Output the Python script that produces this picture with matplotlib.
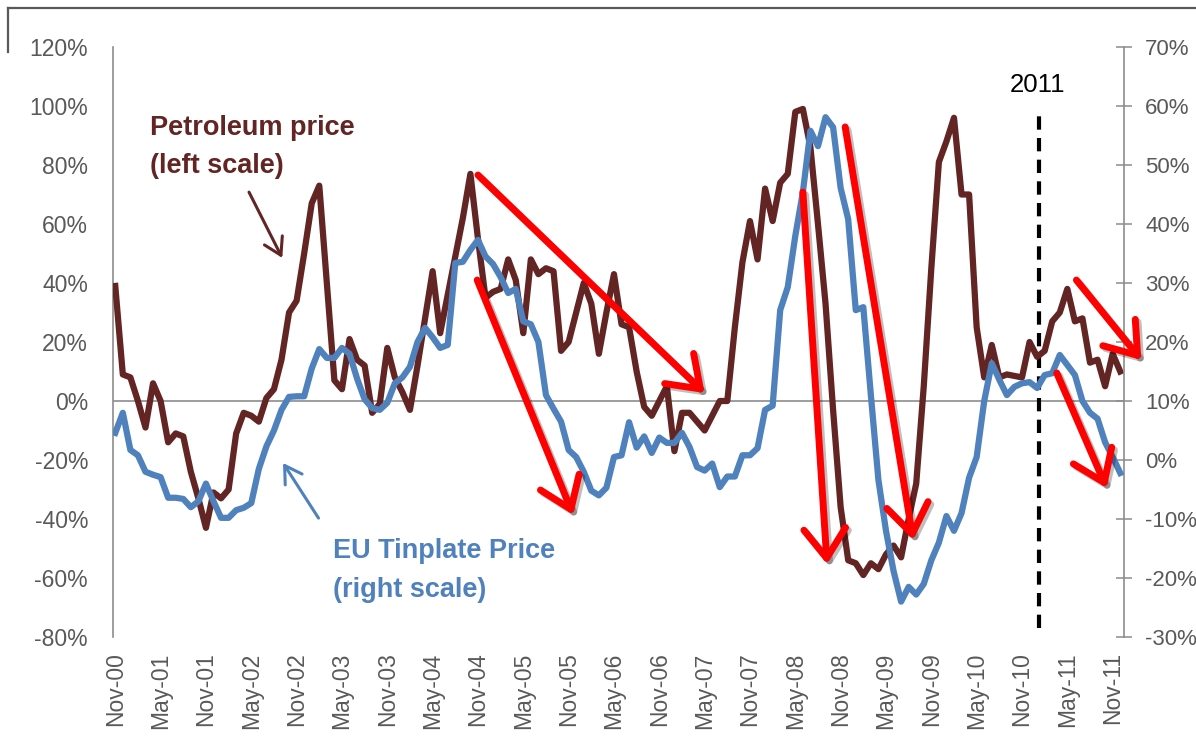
import numpy as np
import pandas as pd
import matplotlib
matplotlib.use('Agg')
import matplotlib.pyplot as plt
import matplotlib.patheffects as pe
from matplotlib.lines import Line2D
from matplotlib.ticker import MultipleLocator, FuncFormatter

# year-on-year price change, monthly from Nov-00
start_month = '2000-11'
petroleum = [39, 9, 8, 0, -9, 6, 0, -14, -11, -12, -24, -33, -43, -31, -33, -30,
             -11, -4, -5, -7, 1, 4, 14, 30, 34, 50, 67, 73, 40, 7, 4, 21,
             14, 12, -4, -1, 18, 8, 3, -3, 12, 28, 44, 23, 36, 49, 62, 77,
             55, 35, 37, 38, 48, 41, 23, 48, 43, 45, 44, 17, 20, 30, 40, 33,
             16, 30, 43, 26, 25, 10, -2, -5, 0, 5, -17, -4, -4, -7, -10, -5,
             0, 0, 25, 47, 61, 48, 72, 61, 74, 77, 98, 99, 86, 60, 33, -3,
             -36, -54, -55, -59, -55, -57, -52, -49, -53, -40, -28, 5, 45, 81, 88, 96,
             70, 70, 25, 8, 19, 8, 9, 8.5, 8, 20, 15, 17, 27, 30, 38, 27,
             28, 13, 14, 5, 16, 10]
tinplate = [4.6, 8, 1.7, 0.8, -2, -2.5, -2.9, -6.4, -6.4, -6.6, -8, -7, -4, -7, -9.8, -9.8,
            -8.5, -8.1, -7.3, -1.5, 2.3, 5, 8.5, 10.7, 10.8, 10.8, 15.5, 18.8, 17.3, 17.3, 19, 18,
            13.8, 10.3, 8.8, 8.5, 9.7, 13, 14, 15.8, 20, 22.4, 20.8, 19, 19.5, 33.4, 33.6, 35.6,
            37.3, 34.5, 33.2, 31, 28.3, 29, 23.5, 23, 20, 11, 8.7, 6.5, 1.7, 0.5, -2, -5.2,
            -6, -4.7, 0.5, 0.8, 6.4, 2.1, 4, 1.2, 3.8, 2.9, 2.9, 4.6, 2.2, -1.2, -1.8, -0.6,
            -4.6, -2.8, -2.8, 0.8, 0.8, 2, 8.5, 9.2, 25.4, 29.3, 38, 45.4, 55.8, 53.2, 58.1, 56.4,
            46.1, 40.8, 25.4, 25.9, 11, -3.4, -12, -18.8, -24, -21.5, -22.8, -21, -17, -14, -9.5, -12,
            -9, -3, 0.5, 10, 16.4, 13.6, 11, 12.4, 13, 13.2, 12.2, 14.4, 14.7, 17.8, 16.1, 14.4,
            10, 8, 7, 3, 0.5, -2.2]

marker_label = '2011'
marker_pos = 122.3

# trend arrows (month index, left-scale %)
red_arrows = [((48.0, 76.6), (78.0, 2.7)),
              ((47.9, 41.0), (60.6, -38.6)),
              ((91.0, 70.8), (94.2, -55.3)),
              ((96.6, 92.9), (105.6, -47.1)),
              ((127.2, 41.0), (135.8, 13.9)),
              ((124.6, 9.5), (131.2, -29.5))]

brown = '#632523'
blue = '#4F81BD'
grey = '#8c8c8c'
label_grey = '#595959'

plt.rcParams['font.family'] = ['Liberation Sans', 'DejaVu Sans']

months = pd.date_range(start_month, periods=len(petroleum), freq='MS')
x = np.arange(len(months))

fig = plt.figure(figsize=(11.96, 7.4), dpi=100)
ax = fig.add_axes([113 / 1196, 1 - 637 / 740, (1124 - 113) / 1196, (637 - 47) / 740])
ax2 = ax.twinx()

ax.axhline(0, color=grey, lw=1.2, zorder=1)
ax.plot(x, petroleum, color=brown, lw=4.5, solid_joinstyle='round', zorder=3)
ax2.plot(x, tinplate, color=blue, lw=4.5, solid_joinstyle='round', zorder=3)

ax.set_xlim(-0.3, 133.5)
ax.set_ylim(-80, 120)
ax2.set_ylim(-30, 70)
ax.yaxis.set_major_locator(MultipleLocator(20))
ax2.yaxis.set_major_locator(MultipleLocator(10))
pct = FuncFormatter(lambda v, _: f'{v:.0f}%')
ax.yaxis.set_major_formatter(pct)
ax2.yaxis.set_major_formatter(pct)

ax.set_xticks(x[::6])
ax.set_xticklabels(months[::6].strftime('%b-%y'))

for s in ['top', 'right', 'bottom']:
    ax.spines[s].set_visible(False)
for s in ['top', 'left', 'bottom']:
    ax2.spines[s].set_visible(False)
ax.spines['left'].set_color(grey)
ax.spines['left'].set_linewidth(1.2)
ax2.spines['right'].set_color(grey)
ax2.spines['right'].set_linewidth(1.2)

ax.tick_params(axis='y', length=0, pad=18, labelsize=16.5, labelcolor=label_grey)
ax.tick_params(axis='x', length=0, pad=11, labelsize=16.5, labelrotation=90, labelcolor=label_grey)
ax2.tick_params(axis='y', direction='inout', length=11.5, width=1.1, color=grey,
                pad=9.5, labelsize=16, labelcolor=label_grey)

# 2011 marker
ax.vlines(marker_pos, -77, 99, colors='black', linestyles=(0, (3.2, 2.0)), lw=3, zorder=2)
ax.text(marker_pos - 0.2, 104.7, marker_label, fontsize=18.5, ha='center', va='baseline', color='black')

# series labels
ax.text(4.6, 90.2, 'Petroleum price', color=brown, fontsize=19.5, fontweight='bold', va='baseline')
ax.text(4.6, 77.3, '(left scale)', color=brown, fontsize=19.5, fontweight='bold', va='baseline')
ax.text(28.8, -53.2, 'EU Tinplate Price', color=blue, fontsize=19.5, fontweight='bold', va='baseline')
ax.text(28.8, -66.4, '(right scale)', color=blue, fontsize=19.5, fontweight='bold', va='baseline')

ax.annotate('', xy=(22.1, 48.5), xytext=(17.7, 70.8),
            arrowprops=dict(arrowstyle='->,head_length=0.5,head_width=0.3', color=brown,
                            lw=2.2, mutation_scale=24, shrinkA=0, shrinkB=0))
ax.annotate('', xy=(22.2, -21.0), xytext=(26.9, -39.7),
            arrowprops=dict(arrowstyle='->,head_length=0.5,head_width=0.3', color=blue,
                            lw=2.2, mutation_scale=24, shrinkA=0, shrinkB=0))

shadow = [pe.SimpleLineShadow(offset=(2, -2), shadow_color='black', alpha=0.25), pe.Normal()]
for start, end in red_arrows:
    ax2.annotate('', xy=end, xytext=start, xycoords=ax.transData, textcoords=ax.transData,
                 annotation_clip=False,
                 arrowprops=dict(arrowstyle='->,head_length=0.45,head_width=0.32', color='#FF0000',
                                 lw=5, mutation_scale=47, shrinkA=0, shrinkB=0,
                                 path_effects=shadow), zorder=5)

# slide frame corner
fig.add_artist(Line2D([8 / 1196, 1], [1 - 8 / 740, 1 - 8 / 740], transform=fig.transFigure,
                      color=label_grey, lw=1.6))
fig.add_artist(Line2D([8 / 1196, 8 / 1196], [1 - 8 / 740, 1 - 52 / 740], transform=fig.transFigure,
                      color=label_grey, lw=1.6))

fig.savefig('out.png', dpi=100)
